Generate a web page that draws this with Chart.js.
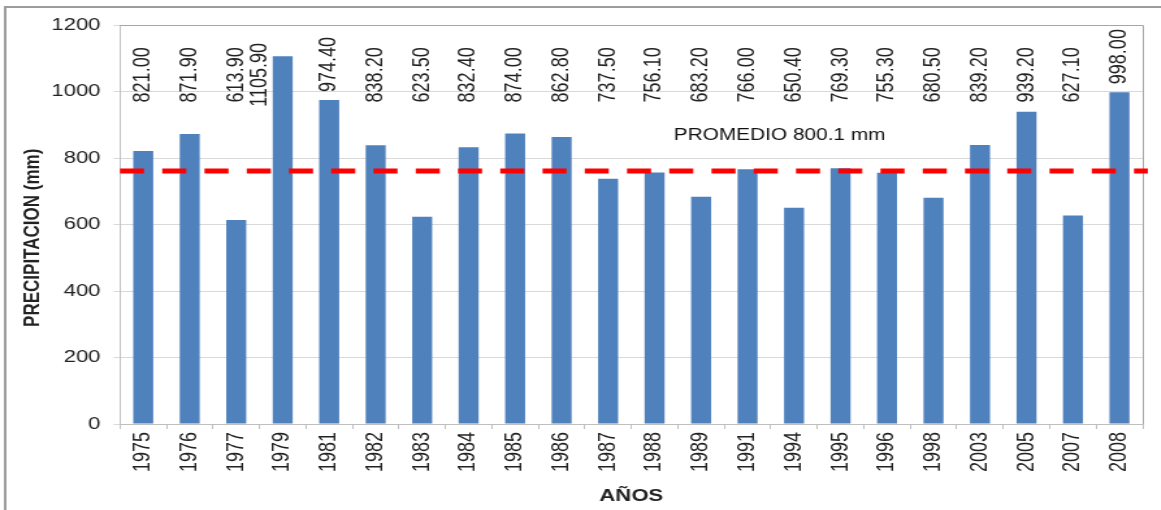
<!DOCTYPE html>
<html>
<head>
<meta charset="utf-8">
<script src="https://cdn.jsdelivr.net/npm/chart.js@4/dist/chart.umd.min.js"></script>
<style>
  html, body { margin: 0; padding: 0; background: #fff; overflow: hidden; }
  #wrap { width: 893px; height: 510px; transform: scaleX(1.3); transform-origin: 0 0; }
</style>
</head>
<body>
<div id="wrap"><canvas id="chart" width="893" height="510"></canvas></div>
<script>
// datos de precipitacion anual
var years = ['1975','1976','1977','1979','1981','1982','1983','1984','1985','1986','1987',
             '1988','1989','1991','1994','1995','1996','1998','2003','2005','2007','2008'];
var precip = [821.00, 871.90, 613.90, 1105.90, 974.40, 838.20, 623.50, 832.40, 874.00, 862.80, 737.50,
              756.10, 683.20, 766.00, 650.40, 769.30, 755.30, 680.50, 839.20, 939.20, 627.10, 998.00];
var yTicks = [0, 200, 400, 600, 800, 1000, 1200];
var promedioLine = 761;          // where the red dashed line sits in the picture
var promedioText = 'PROMEDIO 800.1 mm';

var FONT = '"Liberation Sans", Arial, sans-serif';

// plot frame, outer frame, value labels, average line
var extras = {
    id: 'extras',
    beforeDraw: function(chart) {
        var ctx = chart.ctx;
        ctx.save();
        ctx.strokeStyle = '#9c9c9c';
        ctx.lineWidth = 2;
        ctx.beginPath();
        ctx.moveTo(4, 510);
        ctx.lineTo(4, 7);
        ctx.lineTo(893, 7);
        ctx.stroke();
        ctx.restore();
    },
    afterDatasetsDraw: function(chart) {
        var ctx = chart.ctx;
        var area = chart.chartArea;
        var ys = chart.scales.y;
        var meta = chart.getDatasetMeta(0);

        ctx.save();
        ctx.strokeStyle = '#a6a6a6';
        ctx.lineWidth = 1;
        ctx.beginPath();
        ctx.moveTo(area.left, area.top + 0.5);
        ctx.lineTo(area.right + 0.5, area.top + 0.5);
        ctx.lineTo(area.right + 0.5, area.bottom);
        ctx.stroke();

        // etiquetas de valores
        ctx.fillStyle = '#222';
        ctx.font = '18px ' + FONT;
        ctx.textAlign = 'center';
        ctx.textBaseline = 'middle';
        var yl = ys.getPixelForValue(1050);
        meta.data.forEach(function(bar, i) {
            var txt = precip[i].toFixed(2);
            var half = ctx.measureText(txt).width / 2;
            var cy = Math.min(yl, bar.y - 8 - half);
            var cx = bar.x;
            if (cy - half < area.top + 3) {
                // no room above the bar: put it beside
                cy = yl;
                cx = bar.x - bar.width / 2 - 10;
            }
            ctx.save();
            ctx.translate(cx, cy);
            ctx.rotate(-Math.PI / 2);
            ctx.fillText(txt, 0, 0);
            ctx.restore();
        });

        // linea promedio
        var yp = ys.getPixelForValue(promedioLine);
        ctx.strokeStyle = '#ff0000';
        ctx.lineWidth = 5;
        ctx.setLineDash([18.5, 14]);
        ctx.beginPath();
        ctx.moveTo(area.left, yp);
        ctx.lineTo(area.right + 4, yp);
        ctx.stroke();
        ctx.setLineDash([]);

        ctx.font = '16px ' + FONT;
        ctx.fillStyle = '#111';
        ctx.fillText(promedioText, area.left + 0.645 * (area.right - area.left), ys.getPixelForValue(866));

        // titulo eje y
        ctx.font = 'bold 17px ' + FONT;
        ctx.fillStyle = '#222';
        ctx.translate(25, ys.getPixelForValue(560));
        ctx.rotate(-Math.PI / 2);
        ctx.fillText('PRECIPITACION (mm)', 0, 0);
        ctx.restore();
    }
};

var ctx = document.getElementById('chart');
var chart = new Chart(ctx, {
    type: 'bar',
    data: {
        labels: years,
        datasets: [{
            label: 'Precipitacion',
            data: precip,
            backgroundColor: '#4f81bd',
            borderWidth: 0,
            barPercentage: 0.43,
            categoryPercentage: 1.0
        }]
    },
    options: {
        responsive: false,
        animation: false,
        devicePixelRatio: 1,
        layout: { padding: { left: 11, top: 25, right: 14, bottom: 3 } },
        plugins: {
            legend: { display: false },
            tooltip: { enabled: false }
        },
        scales: {
            x: {
                afterFit: function(s) { s.height = 83; },
                grid: { offset: true, drawOnChartArea: false, drawTicks: true, tickLength: 5, color: '#bfbfbf' },
                border: { color: '#bfbfbf' },
                ticks: {
                    autoSkip: false, minRotation: 90, maxRotation: 90,
                    color: '#222', font: { family: FONT, size: 18 }, padding: 3
                },
                title: {
                    display: true, text: 'AÑOS', color: '#222',
                    font: { family: FONT, size: 17, weight: 'bold' }, padding: 0
                }
            },
            y: {
                min: 0, max: 1200,
                afterFit: function(s) { s.width = 81.3; },
                afterBuildTicks: function(s) { s.ticks = yTicks.map(function(v) { return { value: v }; }); },
                grid: { color: '#d9d9d9', tickLength: 5 },
                border: { color: '#bfbfbf' },
                ticks: {
                    color: '#222', font: { family: FONT, size: 17 }, padding: 10,
                    callback: function(v) { return String(v); }
                }
            }
        }
    },
    plugins: [extras]
});
</script>
</body>
</html>
